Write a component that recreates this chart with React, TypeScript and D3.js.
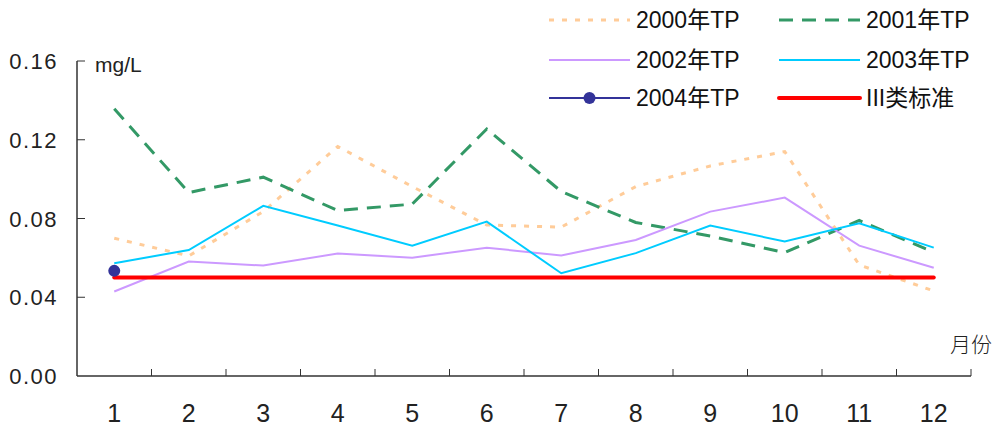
import React from "react";
import * as d3 from "d3";

const months = ["1", "2", "3", "4", "5", "6", "7", "8", "9", "10", "11", "12"];
const tp2000 = [0.070, 0.061, 0.0835, 0.1166, 0.0962, 0.0767, 0.0756, 0.0962, 0.1067, 0.114, 0.0564, 0.0432];
const tp2001 = [0.1357, 0.0932, 0.101, 0.084, 0.0873, 0.1255, 0.0937, 0.078, 0.0711, 0.0627, 0.079, 0.0629];
const tp2002 = [0.0429, 0.0581, 0.0561, 0.0622, 0.0601, 0.0652, 0.0612, 0.0691, 0.0835, 0.0906, 0.0662, 0.055];
const tp2003 = [0.0573, 0.064, 0.0864, 0.0764, 0.0662, 0.0784, 0.0522, 0.0624, 0.0764, 0.0683, 0.0776, 0.0652];
const tp2004 = [0.0534];
const standard = [0.05, 0.05, 0.05, 0.05, 0.05, 0.05, 0.05, 0.05, 0.05, 0.05, 0.05, 0.05];
const yTicks = [0, 0.04, 0.08, 0.12, 0.16];
const yTickLabels = ["0.00", "0.04", "0.08", "0.12", "0.16"];

type Series = { name: string; values: number[]; color: string; width: number; dash?: string; marker?: boolean };

const series: Series[] = [
  { name: "2000年TP", values: tp2000, color: "#FFCC99", width: 3, dash: "5,8" },
  { name: "2001年TP", values: tp2001, color: "#339966", width: 3, dash: "14,9" },
  { name: "2002年TP", values: tp2002, color: "#CC99FF", width: 2 },
  { name: "2003年TP", values: tp2003, color: "#00CCFF", width: 2 },
  { name: "2004年TP", values: tp2004, color: "#333399", width: 2, marker: true },
  { name: "III类标准", values: standard, color: "#FF0000", width: 4 },
];

const W = 998, H = 428;
const axisFont = "'Liberation Sans', 'Noto Sans CJK SC', sans-serif";
const cjkFont = "'Liberation Sans', 'Noto Sans CJK SC', sans-serif";

export default function App() {
  const x = d3.scaleBand<string>().domain(months).range([77, 971]).padding(0);
  const y = d3.scaleLinear().domain([0, 0.16]).range([376, 61]);
  const cx = (i: number) => (x(months[i]) as number) + x.bandwidth() / 2;
  const line = d3.line<number>().x((_, i) => cx(i)).y((d) => y(d));
  const bw = x.bandwidth();

  const legendPos = (i: number) => ({ x0: i % 2 === 0 ? 549 : 779, yy: [20, 60, 98][Math.floor(i / 2)] });

  return (
    <svg width={W} height={H} style={{ position: "absolute", left: 0, top: 0, background: "#fff" }}>
      {/* axes */}
      <line x1={77} x2={77} y1={61} y2={376} stroke="#333" strokeWidth={1.5} />
      <line x1={77} x2={971} y1={376} y2={376} stroke="#333" strokeWidth={1.5} />
      {yTicks.map((t, i) => (
        <g key={"yt" + i}>
          {i > 0 && <line x1={77} x2={85} y1={y(t)} y2={y(t)} stroke="#333" strokeWidth={1} />}
          <text x={58} y={y(t) + 8} textAnchor="end" fontSize={22} fontFamily={axisFont} fill="#222" letterSpacing={1.5}>
            {yTickLabels[i]}
          </text>
        </g>
      ))}
      {months.map((m, i) => (
        <g key={"xt" + i}>
          <line x1={77 + (i + 1) * bw} x2={77 + (i + 1) * bw} y1={376} y2={369} stroke="#333" strokeWidth={1} />
          <text x={cx(i)} y={422} textAnchor="middle" fontSize={25} fontFamily={axisFont} fill="#222">
            {m}
          </text>
        </g>
      ))}
      <text x={95} y={72} fontSize={21} fontFamily={axisFont} fill="#222">mg/L</text>
      <text x={950} y={352} fontSize={21} fontFamily="'Noto Sans CJK SC', sans-serif" fontWeight={300} fill="#222">月份</text>

      {/* series */}
      {series.map((s) =>
        s.values.length > 1 ? (
          <path key={s.name} d={line(s.values) as string} fill="none" stroke={s.color} strokeWidth={s.width} strokeDasharray={s.dash} strokeLinecap={s.name.startsWith("III") ? "round" : "butt"} />
        ) : null
      )}
      {series.filter((s) => s.marker).map((s) =>
        s.values.map((v, i) => <circle key={s.name + i} cx={cx(i)} cy={y(v)} r={6} fill={s.color} />)
      )}

      {/* legend */}
      {series.map((s, i) => {
        const p = legendPos(i);
        return (
          <g key={"lg" + i}>
            <line x1={p.x0} x2={p.x0 + 81} y1={p.yy} y2={p.yy} stroke={s.color} strokeWidth={s.width} strokeDasharray={s.dash} strokeLinecap={s.name.startsWith("III") ? "round" : "butt"} />
            {s.marker && <circle cx={p.x0 + 40.5} cy={p.yy} r={6} fill={s.color} />}
            <text x={p.x0 + 87} y={p.yy + 8} fontSize={23} fontFamily={cjkFont} fill="#111">
              {s.name}
            </text>
          </g>
        );
      })}
    </svg>
  );
}
